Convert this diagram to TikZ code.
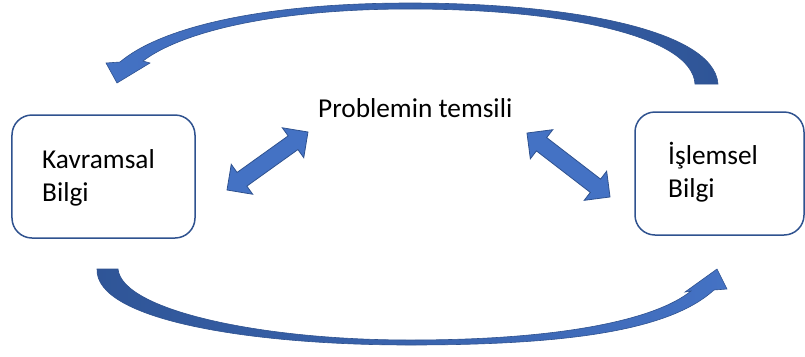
\documentclass[tikz,border=0pt]{standalone}
\usepackage{fontspec}
\setmainfont{Carlito}
\usepackage{xcolor}
\usetikzlibrary{shapes.arrows, positioning}
\definecolor{bilgiblue}{RGB}{68, 114, 196}
\definecolor{bilgidark}{RGB}{47, 85, 151}
\definecolor{bilgiedge}{RGB}{47, 82, 143}

\begin{document}
\begin{tikzpicture}[
    x=1bp, y=-1bp,
    box/.style={
        rectangle,
        rounded corners=20bp,
        draw=bilgiedge,
        line width=1.5bp,
        fill=white,
        inner sep=0pt
    },
    boxtext/.style={
        font=\fontsize{27.3bp}{33bp}\selectfont,
        align=left,
        inner sep=0pt
    },
    dblarrow/.style={
        double arrow,
        fill=bilgiblue,
        draw=bilgiedge,
        line width=0.8bp,
        inner sep=0pt,
        inner ysep=8bp,
        minimum width=36bp,
        double arrow head extend=10bp
    },
    curvearrow/.style={
        draw=bilgiedge,
        line width=0.6bp
    }
]

% Page
\useasboundingbox (0,0) rectangle (805,356);

% Boxes
\node[box, minimum width=183bp, minimum height=123bp] (kavbox) at (103.5,176.5) {};
\node[box, minimum width=169bp, minimum height=123bp] (islbox) at (719.5,173.5) {};

% Texts (base = last line)
\node[boxtext, anchor=base west] (kavtext) at (42,201) {Kavramsal\\Bilgi};
\node[boxtext, anchor=base west] (isltext) at (668,197) {İşlemsel\\Bilgi};
\node[boxtext, anchor=base west] (temsil) at (318,117) {Problemin temsili};

% Double arrows
\node[dblarrow, rotate=35.6, minimum height=99.6bp] (solok) at (267.5,161) {};
\node[dblarrow, rotate=-37.6, minimum height=104.8bp] (sagok) at (568.5,165) {};

% Curved arrows
\path[curvearrow, left color=bilgiblue, right color=bilgidark]
    (718,84) .. controls (714,30) and (570,3) .. (410,3)
    .. controls (260,3) and (160,28) .. (120,62)
    -- (106,63) -- (117,83) -- (150,63) -- (143,61)
    .. controls (180,33) and (270,9) .. (410,9)
    .. controls (560,9) and (692,35) .. (695,84) -- cycle;
\path[curvearrow, left color=bilgidark, right color=bilgiblue]
    (97,269) -- (118,269)
    .. controls (122,310) and (260,340) .. (410,340)
    .. controls (560,340) and (655,320) .. (691,291)
    -- (685,292) -- (717,269) -- (727,289) -- (714,290)
    .. controls (670,330) and (570,345) .. (410,345)
    .. controls (250,345) and (95,320) .. (97,269) -- cycle;

\end{tikzpicture}
\end{document}
